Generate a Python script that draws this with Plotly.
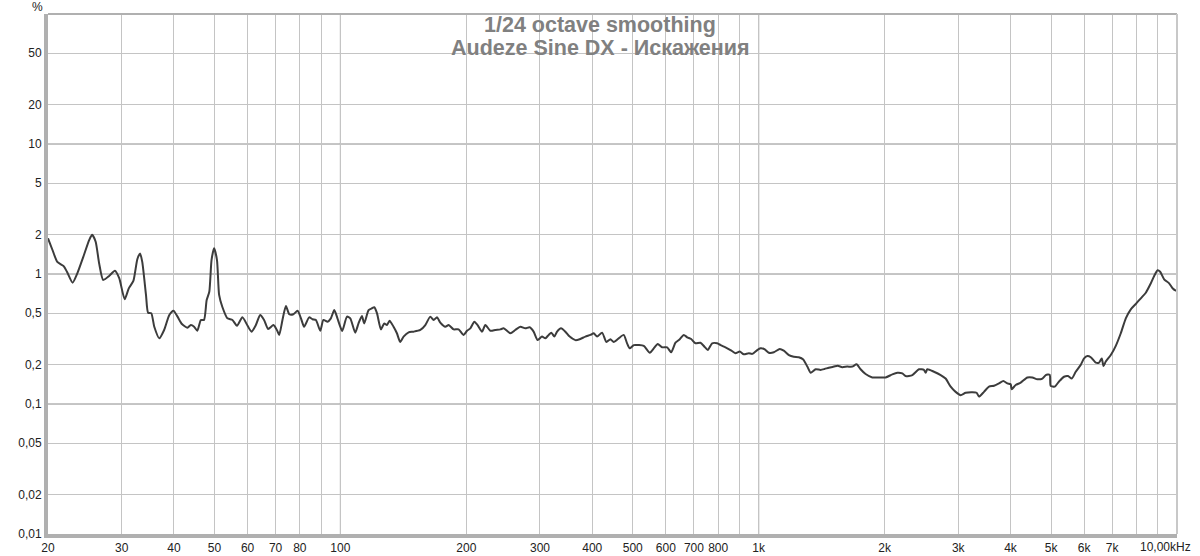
import plotly.graph_objects as go
import math

# ---- data ----
freq_hz = [20.0, 20.5, 21.05, 21.8, 22.2, 22.9, 23.5, 24.3, 25.1, 25.5, 26.0, 26.5, 27.1, 28.0, 28.9, 29.6,
           30.5, 31.2, 32.0, 32.7, 33.2, 33.6, 34.3, 34.7, 35.3, 35.9, 36.9, 37.9, 39.0, 39.9, 40.8, 41.8,
           43.1, 43.9, 44.7, 45.5, 46.4, 47.2, 47.9, 48.6, 49.2, 49.9, 50.7, 51.3, 52.2, 53.7, 55.2, 56.6,
           58.3, 60.0, 61.3, 62.8, 64.3, 65.7, 67.2, 69.2, 70.5, 71.4, 72.7, 74.1, 75.5, 77.2, 79.0, 80.5,
           81.9, 84.2, 85.8, 87.4, 89.5, 91.1, 93.2, 94.9, 96.7, 98.4, 101.0,
           103.7, 105.6, 108.5, 110.5, 112.6, 114.0, 116.8, 119.0, 120.5, 122.3, 125.0, 127.3, 129.2, 131.1,
           134.0, 136.5, 139.0, 141.6, 145.6, 149.6, 155.3, 159.6, 164.0, 167.1, 170.2, 173.3, 178.2, 181.5,
           186.5, 191.7, 197.0, 200.8, 204.5, 209.0, 212.8, 218.1, 222.1, 228.3, 234.7, 241.2, 245.6, 254.9,
           261.9, 269.3, 276.8, 283.4, 289.7, 296.2, 303.4, 309.0, 314.7, 319.4, 324.7, 329.6, 336.9, 345.0,
           353.3, 364.6, 373.3, 385.2, 396.0, 403.3, 410.9, 422.3, 432.4, 442.1, 450.2, 462.7, 475.6, 484.6,
           491.7, 502.8, 516.8, 531.2, 549.1, 561.2, 573.7, 587.8, 604.2, 617.7, 632.5, 647.6, 662.2, 674.6,
           689.6, 706.0, 725.8, 742.0, 755.6, 774.0, 795.7, 810.4, 832.9, 856.2, 880.0, 901.2, 921.2, 947.0,
           964.9, 992.0, 1010, 1032, 1057, 1087, 1123, 1148, 1181, 1213, 1247, 1278, 1307, 1331, 1368, 1406,
           1437, 1471, 1513, 1546, 1584, 1628, 1674, 1714, 1752, 1801, 1869, 1938, 2011, 2087, 2145, 2205,
           2245, 2330, 2416, 2483, 2507, 2530, 2624, 2723, 2798, 2877, 2957, 3039, 3124, 3241, 3319, 3362,
           3456, 3553, 3652, 3754, 3845, 3931, 4003, 4025, 4115, 4230, 4389, 4511, 4637, 4767, 4855, 4962,
           4989, 5101, 5224, 5369, 5489, 5603, 5727, 5887, 5996, 6109, 6221, 6395, 6512, 6609, 6672, 6757,
           6946, 7139, 7339, 7544, 7755, 7971, 8194, 8423, 8659, 8819, 8986, 9115, 9317, 9577, 9758, 9937,
           10000]
distortion_pct = [1.88, 1.53, 1.24, 1.15, 1.04, 0.857, 1.01, 1.36, 1.83, 2.0, 1.77, 1.21, 0.90, 0.965, 1.06, 0.93,
                  0.64, 0.776, 0.884, 1.30, 1.44, 1.24, 0.69, 0.504, 0.50, 0.393, 0.32, 0.371, 0.484, 0.522, 0.47, 0.412,
                  0.386, 0.405, 0.393, 0.366, 0.443, 0.443, 0.63, 0.73, 1.28, 1.58, 1.28, 0.69, 0.56, 0.456, 0.443, 0.40,
                  0.464, 0.40, 0.36, 0.405, 0.484, 0.443, 0.378, 0.405, 0.371, 0.34, 0.443, 0.567, 0.49, 0.49, 0.522, 0.456,
                  0.393, 0.464, 0.449, 0.443, 0.366, 0.443, 0.43, 0.456, 0.528, 0.456, 0.365,
                  0.47, 0.456, 0.354, 0.417, 0.475, 0.417, 0.528, 0.545, 0.555, 0.50, 0.375, 0.417, 0.405, 0.437,
                  0.393, 0.35, 0.30, 0.33, 0.356, 0.36, 0.371, 0.405, 0.47, 0.443, 0.464, 0.423, 0.393, 0.405,
                  0.375, 0.375, 0.34, 0.366, 0.382, 0.43, 0.405, 0.36, 0.405, 0.366, 0.371, 0.375, 0.382, 0.35,
                  0.371, 0.393, 0.382, 0.389, 0.36, 0.31, 0.33, 0.32, 0.34, 0.354, 0.33, 0.36, 0.382, 0.36,
                  0.33, 0.31, 0.315, 0.33, 0.34, 0.35, 0.33, 0.354, 0.30, 0.315, 0.30, 0.32, 0.34, 0.293,
                  0.268, 0.284, 0.284, 0.28, 0.248, 0.268, 0.29, 0.273, 0.273, 0.25, 0.296, 0.315, 0.34, 0.326,
                  0.316, 0.293, 0.296, 0.276, 0.26, 0.293, 0.293, 0.284, 0.273, 0.26, 0.246, 0.253, 0.241, 0.246,
                  0.243, 0.26, 0.268, 0.264, 0.248, 0.25, 0.265, 0.257, 0.238, 0.231, 0.229, 0.22, 0.194, 0.174, 0.185, 0.183,
                  0.186, 0.19, 0.194, 0.197, 0.192, 0.194, 0.194, 0.202, 0.185, 0.17, 0.16, 0.16, 0.16, 0.169, 0.174, 0.172,
                  0.164, 0.167, 0.185, 0.183, 0.174, 0.185, 0.177, 0.167, 0.157, 0.136, 0.124, 0.117, 0.122, 0.123, 0.122, 0.114,
                  0.124, 0.136, 0.138, 0.144, 0.15, 0.144, 0.142, 0.13, 0.14, 0.146, 0.16, 0.16, 0.155, 0.157, 0.167, 0.168,
                  0.138, 0.136, 0.149, 0.162, 0.164, 0.157, 0.177, 0.20, 0.224, 0.234, 0.229, 0.208, 0.208, 0.224, 0.196, 0.212,
                  0.238, 0.28, 0.35, 0.456, 0.535, 0.588, 0.65, 0.718, 0.848, 0.965, 1.07, 1.04, 0.91, 0.848, 0.776, 0.745,
                  0.745]

x_tick_vals = [20, 30, 40, 50, 60, 70, 80, 100, 200, 300, 400, 500, 600, 700, 800,
               1000, 2000, 3000, 4000, 5000, 6000, 7000]
x_tick_text = ["20", "30", "40", "50", "60", "70", "80", "100", "200", "300", "400", "500", "600", "700", "800",
               "1k", "2k", "3k", "4k", "5k", "6k", "7k"]
x_minor_grid = [90, 900, 8000, 9000]
x_major_grid = [100, 1000]
x_end_value = 10000
x_end_label = "10,00kHz"

y_tick_vals = [0.01, 0.02, 0.05, 0.1, 0.2, 0.5, 1, 2, 5, 10, 20, 50]
y_tick_text = ["0,01", "0,02", "0,05", "0,1", "0,2", "0,5", "1", "2", "5", "10", "20", "50"]
y_major_grid = [0.1, 1, 10]

title_line1 = "1/24 octave smoothing"
title_line2 = "Audeze Sine DX - Искажения"
unit_label = "%"

FONT = "Liberation Sans, Arial, sans-serif"
LIGHT = "#c4c4c4"
DARK = "#8c8c8c"
TICK_FONT = dict(family=FONT, size=12, color="#222222")

fig = go.Figure()
fig.add_trace(go.Scatter(x=freq_hz, y=distortion_pct, mode="lines",
                         line=dict(color="#3c3c3c", width=2, shape="spline", smoothing=0.6),
                         hoverinfo="x+y", showlegend=False))

shapes = []
for v in x_major_grid:
    shapes.append(dict(type="line", xref="x", yref="paper", x0=v, x1=v, y0=0, y1=1,
                       line=dict(color=DARK, width=1), layer="between"))
for v in y_major_grid:
    shapes.append(dict(type="line", xref="paper", yref="y", x0=0, x1=1, y0=v, y1=v,
                       line=dict(color=DARK, width=1), layer="between"))
# top and right frame
shapes.append(dict(type="line", xref="paper", yref="paper", x0=0, x1=1, y0=1, y1=1,
                   line=dict(color="#b0b0b0", width=2)))
shapes.append(dict(type="line", xref="paper", yref="paper", x0=1, x1=1, y0=0, y1=1,
                   line=dict(color="#c8c8c8", width=2)))

title_x = (600 - 48) / 1129
annotations = [
    dict(text=title_line1, xref="paper", yref="paper", x=title_x, y=1, yshift=-11,
         xanchor="center", yanchor="middle", showarrow=False,
         font=dict(family=FONT, size=21.5, color="#808080", weight="bold")),
    dict(text=title_line2, xref="paper", yref="paper", x=title_x, y=1, yshift=-34,
         xanchor="center", yanchor="middle", showarrow=False,
         font=dict(family=FONT, size=21.5, color="#808080", weight="bold")),
    dict(text=unit_label, xref="paper", yref="paper", x=0, y=1, xshift=-11, yshift=7,
         xanchor="center", yanchor="middle", showarrow=False, font=TICK_FONT),
    dict(text=x_end_label, xref="x", yref="paper", x=math.log10(x_end_value), y=0, xshift=16, yshift=-13,
         xanchor="right", yanchor="middle", showarrow=False, font=TICK_FONT),
]

fig.update_layout(
    width=1200, height=556,
    margin=dict(l=48, r=23, t=14, b=22, autoexpand=False),
    paper_bgcolor="white", plot_bgcolor="white",
    shapes=shapes, annotations=annotations,
    font=dict(family=FONT, size=12, color="#222222"),
    xaxis=dict(type="log", range=[math.log10(20), math.log10(x_end_value)], tickmode="array",
               tickvals=x_tick_vals, ticktext=x_tick_text, automargin=False,
               showgrid=True, gridcolor=LIGHT, gridwidth=1, ticks="",
               minor=dict(tickmode="array", tickvals=x_minor_grid, showgrid=True, gridcolor=LIGHT, ticks=""),
               showline=True, linecolor="#b0b0b0", linewidth=4, zeroline=False,
               tickfont=TICK_FONT),
    yaxis=dict(type="log", range=[-2, 2], tickmode="array",
               tickvals=y_tick_vals, ticktext=y_tick_text, automargin=False,
               showgrid=True, gridcolor=LIGHT, gridwidth=1, ticks="",
               showline=True, linecolor="#b0b0b0", linewidth=4, zeroline=False,
               tickfont=TICK_FONT),
)

fig.write_html("out.html", config={"displayModeBar": False},
               post_script="document.body.style.margin='0';document.body.style.padding='0';")
